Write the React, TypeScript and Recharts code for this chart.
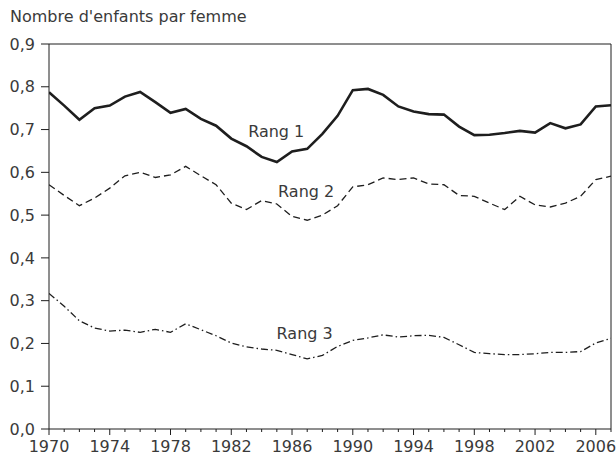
import React from 'react';
import { LineChart, Line, XAxis, YAxis, ReferenceLine, ReferenceDot } from 'recharts';

// années 1970 -> 2007
const years = [
    1970, 1971, 1972, 1973, 1974, 1975, 1976, 1977, 1978, 1979,
    1980, 1981, 1982, 1983, 1984, 1985, 1986, 1987, 1988, 1989,
    1990, 1991, 1992, 1993, 1994, 1995, 1996, 1997, 1998, 1999,
    2000, 2001, 2002, 2003, 2004, 2005, 2006, 2007,
];

const rang1 = [
    0.787, 0.756, 0.723, 0.750, 0.756, 0.777, 0.788, 0.764, 0.739, 0.748,
    0.725, 0.709, 0.679, 0.661, 0.636, 0.624, 0.649, 0.655, 0.690, 0.732,
    0.792, 0.795, 0.781, 0.754, 0.742, 0.736, 0.735, 0.707, 0.687, 0.688,
    0.692, 0.697, 0.693, 0.715, 0.703, 0.712, 0.754, 0.757,
];

const rang2 = [
    0.571, 0.546, 0.522, 0.540, 0.563, 0.592, 0.600, 0.588, 0.594, 0.614,
    0.592, 0.571, 0.528, 0.513, 0.534, 0.526, 0.497, 0.488, 0.500, 0.522,
    0.566, 0.571, 0.587, 0.583, 0.587, 0.573, 0.571, 0.546, 0.544, 0.528,
    0.513, 0.544, 0.524, 0.519, 0.528, 0.544, 0.583, 0.591,
];

const rang3 = [
    0.317, 0.287, 0.253, 0.236, 0.229, 0.231, 0.226, 0.233, 0.226, 0.246,
    0.232, 0.218, 0.201, 0.192, 0.187, 0.184, 0.174, 0.164, 0.172, 0.193,
    0.207, 0.213, 0.220, 0.215, 0.218, 0.219, 0.214, 0.197, 0.179, 0.176,
    0.174, 0.174, 0.176, 0.179, 0.179, 0.181, 0.201, 0.212,
];

const yTicks = [0, 0.1, 0.2, 0.3, 0.4, 0.5, 0.6, 0.7, 0.8, 0.9];

// étiquettes des courbes (coordonnées en unités de données)
const seriesLabels = [
    { text: 'Rang 1', year: 1984.96, value: 0.696 },
    { text: 'Rang 2', year: 1986.93, value: 0.555 },
    { text: 'Rang 3', year: 1986.83, value: 0.223 },
];

const FONT = '"DejaVu Sans", sans-serif';
const TEXT = '#3a3a3a';
const INK = '#1e1e1e';

const chartData = years.map((year, i) => ({
    year,
    r1: rang1[i],
    r2: rang2[i],
    r3: rang3[i],
}));

function YearTick(props: any) {
    const { x, y, payload } = props;
    const major = (payload.value - 1970) % 4 === 0;
    return (
        <g>
            <line x1={x} x2={x} y1={y} y2={y + (major ? 6 : 3)} stroke={INK} strokeWidth={1} />
            {major && (
                <text x={x} y={y + 22.5} textAnchor="middle" fill={TEXT} fontSize={16} fontFamily={FONT}>
                    {payload.value}
                </text>
            )}
        </g>
    );
}

export default function App() {
    return (
        <div style={{ position: 'absolute', left: 0, top: 0, width: 616, height: 456, background: '#fff' }}>
            <div
                style={{
                    position: 'absolute',
                    left: 10,
                    top: 7,
                    fontFamily: FONT,
                    fontSize: 16,
                    color: TEXT,
                    whiteSpace: 'nowrap',
                }}
            >
                Nombre d'enfants par femme
            </div>
            <LineChart
                width={616}
                height={456}
                data={chartData}
                margin={{ top: 44, right: 5, left: 0, bottom: 0 }}
            >
                <XAxis
                    dataKey="year"
                    type="number"
                    domain={[1970, 2007]}
                    ticks={years}
                    interval={0}
                    height={27}
                    tickSize={0}
                    tickMargin={0}
                    tickLine={false}
                    axisLine={{ stroke: INK, strokeWidth: 1 }}
                    tick={<YearTick />}
                    allowDataOverflow
                />
                <YAxis
                    type="number"
                    domain={[0, 0.9]}
                    ticks={yTicks}
                    interval={0}
                    width={49}
                    tickSize={8}
                    tickMargin={6}
                    axisLine={{ stroke: INK, strokeWidth: 1 }}
                    tickLine={{ stroke: INK, strokeWidth: 1 }}
                    tick={{ fill: TEXT, fontSize: 16, fontFamily: FONT }}
                    tickFormatter={(v: number) => v.toFixed(1).replace('.', ',')}
                    allowDataOverflow
                />

                {/* cadre haut et droit */}
                <ReferenceLine y={0.9} stroke={INK} strokeWidth={1} />
                <ReferenceLine x={2007} stroke={INK} strokeWidth={1} />

                {/* Rang 1 */}
                <Line
                    type="linear"
                    dataKey="r1"
                    stroke={INK}
                    strokeWidth={2.6}
                    dot={false}
                    isAnimationActive={false}
                />
                {/* Rang 2 */}
                <Line
                    type="linear"
                    dataKey="r2"
                    stroke={INK}
                    strokeWidth={1.3}
                    strokeDasharray="7 4"
                    dot={false}
                    isAnimationActive={false}
                />
                {/* Rang 3 */}
                <Line
                    type="linear"
                    dataKey="r3"
                    stroke={INK}
                    strokeWidth={1.3}
                    strokeDasharray="7 3 1.5 3"
                    dot={false}
                    isAnimationActive={false}
                />

                {seriesLabels.map((l) => (
                    <ReferenceDot
                        key={l.text}
                        x={l.year}
                        y={l.value}
                        r={0}
                        fill="none"
                        stroke="none"
                        label={{ value: l.text, position: 'center', fill: TEXT, fontSize: 16, fontFamily: FONT }}
                    />
                ))}
            </LineChart>
        </div>
    );
}
